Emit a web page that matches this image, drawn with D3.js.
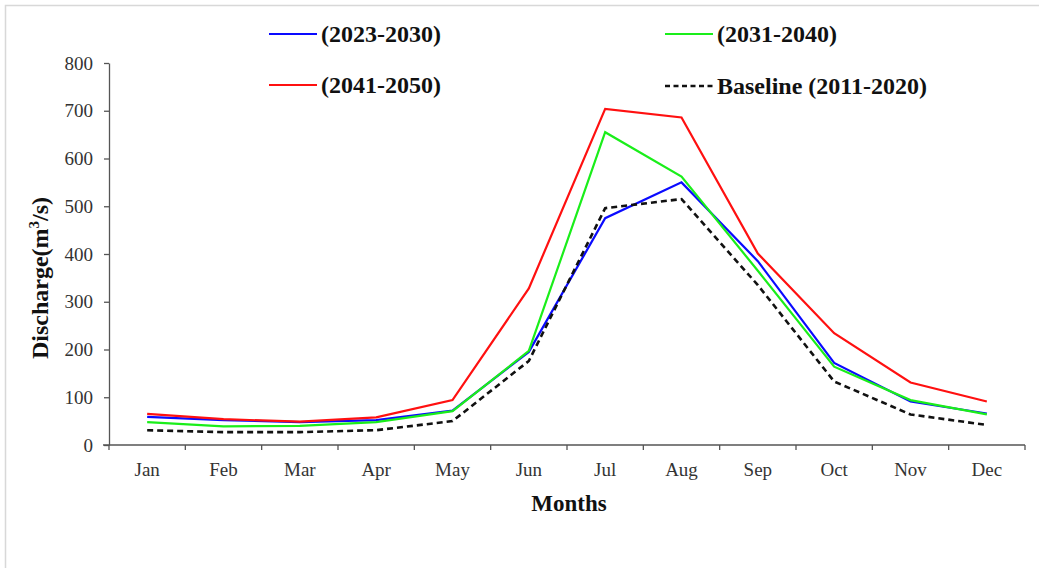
<!DOCTYPE html>
<html>
<head>
<meta charset="utf-8">
<script src="https://cdn.jsdelivr.net/npm/d3@7"></script>
<style>
  html, body { margin: 0; padding: 0; background: #fff; }
  svg { display: block; }
  text { font-family: "Liberation Serif", "Times New Roman", serif; }
</style>
</head>
<body>
<svg id="chart" width="1039" height="568"></svg>
<script>
// Monthly discharge (m3/s) for the baseline and three future periods
const months = ["Jan", "Feb", "Mar", "Apr", "May", "Jun", "Jul", "Aug", "Sep", "Oct", "Nov", "Dec"];
const period2023_2030 = [59, 52, 48, 52, 72, 195, 475, 550, 385, 172, 91, 66];
const period2031_2040 = [48, 39, 40, 48, 71, 197, 655, 562, 365, 164, 94, 64];
const period2041_2050 = [65, 54, 49, 58, 94, 328, 704, 686, 401, 234, 131, 91];
const baseline2011_2020 = [31, 27, 27, 31, 50, 176, 496, 515, 335, 133, 64, 42];
const yTicks = [0, 100, 200, 300, 400, 500, 600, 700, 800];

const series = [
  { name: "(2023-2030)", values: period2023_2030, color: "#0a0aff", dash: null, width: 2.2 },
  { name: "(2031-2040)", values: period2031_2040, color: "#1aee1a", dash: null, width: 2.2 },
  { name: "(2041-2050)", values: period2041_2050, color: "#ff1010", dash: null, width: 2.2 },
  { name: "Baseline (2011-2020)", values: baseline2011_2020, color: "#111", dash: "6,4", width: 2.6 }
];

const svg = d3.select("#chart");

// Outer frame
svg.append("rect")
  .attr("x", 5.5).attr("y", 5.5)
  .attr("width", 1060).attr("height", 600)
  .attr("fill", "none").attr("stroke", "#d8d8d8").attr("stroke-width", 1.5);

const x = d3.scaleBand().domain(months).range([109, 1025]);
const y = d3.scaleLinear().domain([0, 800]).range([445, 63]);

const axisColor = "#555";

// Y axis
const yAxis = svg.append("g")
  .attr("transform", `translate(${x.range()[0]},0)`)
  .call(d3.axisLeft(y).tickValues(yTicks).tickSize(5).tickPadding(11).tickSizeOuter(0));
yAxis.select(".domain").attr("stroke", axisColor).attr("stroke-width", 1.3);
yAxis.selectAll(".tick line").attr("stroke", axisColor).attr("stroke-width", 1.3);
yAxis.selectAll(".tick text")
  .attr("font-size", 19).attr("fill", "#333")
  .style("font-family", "'Liberation Serif', serif");

// X axis: ticks at month boundaries, labels centred in each band
const xg = svg.append("g").attr("transform", `translate(0,${y(0)})`);
xg.append("line")
  .attr("x1", x.range()[0] - 6).attr("x2", x.range()[1])
  .attr("stroke", axisColor).attr("stroke-width", 1.3);
const boundaries = months.map(m => x(m)).concat([x.range()[1]]);
xg.selectAll("line.tick").data(boundaries).enter().append("line")
  .attr("class", "tick")
  .attr("x1", d => d).attr("x2", d => d)
  .attr("y1", 0).attr("y2", 5)
  .attr("stroke", axisColor).attr("stroke-width", 1.3);
xg.selectAll("text").data(months).enter().append("text")
  .attr("x", d => x(d) + x.bandwidth() / 2)
  .attr("y", 31)
  .attr("text-anchor", "middle")
  .attr("font-size", 19).attr("fill", "#333")
  .text(d => d);

// Axis titles
svg.append("text")
  .attr("x", 569).attr("y", 511)
  .attr("text-anchor", "middle")
  .attr("font-size", 23).attr("font-weight", "bold").attr("fill", "#111")
  .text("Months");

const yTitle = svg.append("text")
  .attr("transform", "translate(48,278) rotate(-90)")
  .attr("text-anchor", "middle")
  .attr("font-size", 24).attr("font-weight", "bold").attr("fill", "#111");
yTitle.append("tspan").text("Discharge(m");
yTitle.append("tspan").attr("font-size", 15).attr("dy", -9).text("3");
yTitle.append("tspan").attr("dy", 9).text("/s)");

// Series lines
const line = d3.line()
  .x((d, i) => x(months[i]) + x.bandwidth() / 2)
  .y(d => y(d));

svg.append("g").selectAll("path").data(series).enter().append("path")
  .attr("d", d => line(d.values))
  .attr("fill", "none")
  .attr("stroke", d => d.color)
  .attr("stroke-width", d => d.width)
  .attr("stroke-dasharray", d => d.dash)
  .attr("stroke-linejoin", "miter");

// Legend (two columns, two rows)
const legendPos = [
  { lx: 269, ly: 34 },
  { lx: 665, ly: 34 },
  { lx: 269, ly: 85 },
  { lx: 665, ly: 86 }
];
const legend = svg.append("g").selectAll("g").data(series).enter().append("g")
  .attr("transform", (d, i) => `translate(${legendPos[i].lx},${legendPos[i].ly})`);
legend.append("line")
  .attr("x1", 0).attr("x2", 48)
  .attr("stroke", d => d.color)
  .attr("stroke-width", d => d.width)
  .attr("stroke-dasharray", d => d.dash ? "5,3.5" : null);
legend.append("text")
  .attr("x", 52).attr("y", 8)
  .attr("font-size", 24).attr("font-weight", "bold").attr("fill", "#111")
  .text(d => d.name);
</script>
</body>
</html>
